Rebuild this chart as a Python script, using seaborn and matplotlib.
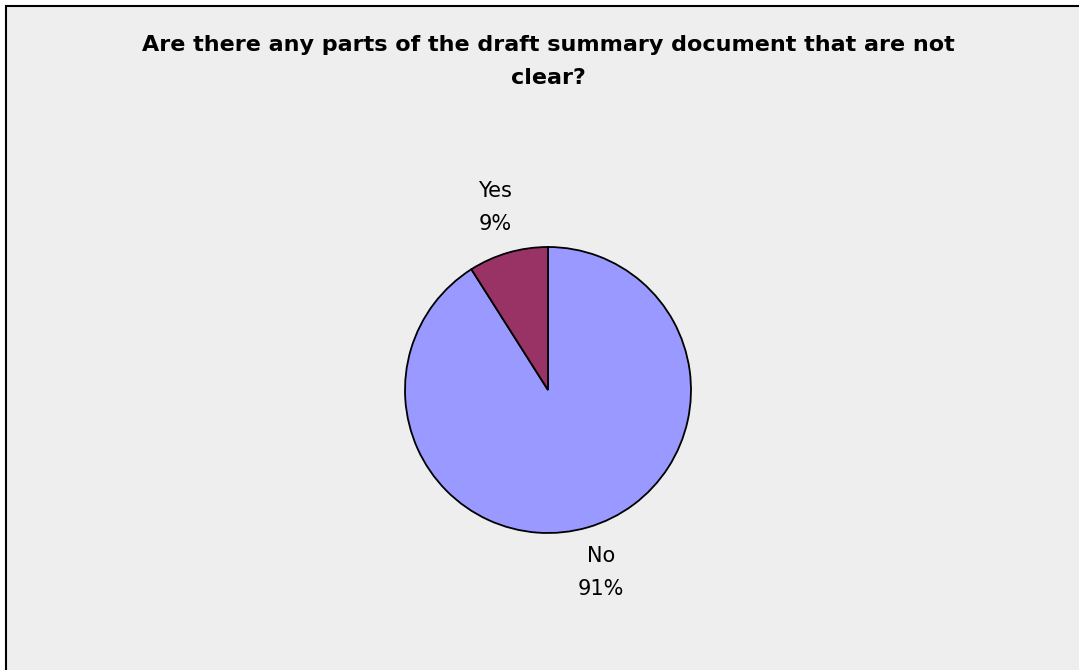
import matplotlib
matplotlib.use("Agg")
import matplotlib.pyplot as plt
import seaborn as sns
from matplotlib.patches import Rectangle

sns.set_style("white")
plt.rcParams["font.family"] = ["DejaVu Sans"]
plt.rcParams["text.color"] = "black"

categories = ["No", "Yes"]
percentages = [91, 9]
slice_colors = sns.color_palette(["#9999FF", "#993366"])
title = "Are there any parts of the draft summary document that are not\nclear?"

fig = plt.figure(figsize=(10.79, 6.70), dpi=100)
fig.patch.set_facecolor("white")

# chart area panel with a dark frame
W, H = 1079, 670
fig.patches.append(Rectangle((6 / W, -0.1), 1.2, (H - 6) / H + 0.1,
                             transform=fig.transFigure,
                             facecolor="#EEEEEE", edgecolor="black", linewidth=1.5,
                             zorder=-1))

fig.text(548 / W, 1 - 61.5 / H, title, ha="center", va="center", fontsize=16,
         fontweight="bold", linespacing=1.85, color="black")

r = 143
cx, cy = 548, 390
ax = fig.add_axes([(cx - r) / W, (H - cy - r) / H, 2 * r / W, 2 * r / H])
ax.set_zorder(2)
ax.set_facecolor("none")

labels = [f"{c}\n{p}%" for c, p in zip(categories, percentages)]
ax.pie(percentages, labels=labels, colors=slice_colors, startangle=90,
       counterclock=False, labeldistance=1.33,
       wedgeprops=dict(edgecolor="black", linewidth=1.3),
       textprops=dict(fontsize=15, ha="center", va="center", linespacing=1.8,
                      color="black"))
ax.set_xlim(-1, 1)
ax.set_ylim(-1, 1)
ax.set_aspect("equal")
ax.axis("off")

fig.savefig("out.png", dpi=100)
